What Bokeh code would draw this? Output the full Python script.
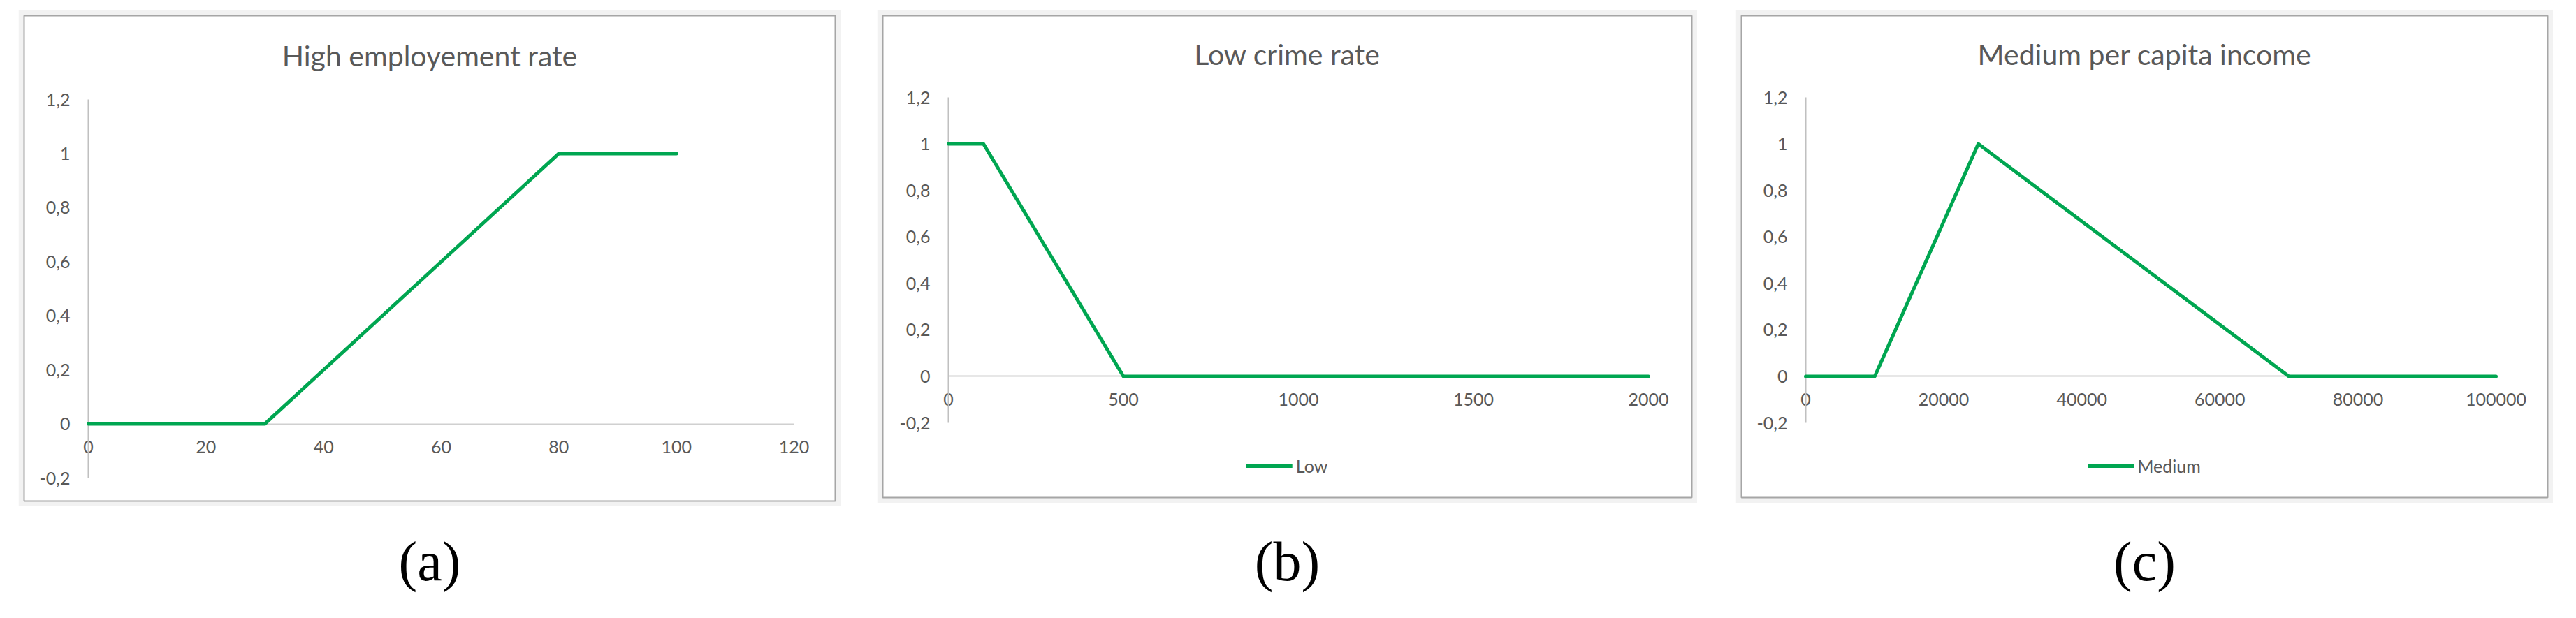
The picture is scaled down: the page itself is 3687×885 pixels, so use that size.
from bokeh.plotting import figure
from bokeh.models import FixedTicker, Label, Legend, LegendItem, Spacer, Range1d
from bokeh.layouts import row, column
from bokeh.embed import file_html
from bokeh.resources import INLINE
from bokeh.core.properties import value

# ---------------- data ----------------
emp_x = [0, 30, 80, 100]
emp_y = [0, 0, 1, 1]

crime_x = [0, 100, 500, 2000]
crime_y = [1, 1, 0, 0]

income_x = [0, 10000, 25000, 70000, 100000]
income_y = [0, 0, 1, 0, 0]

y_ticks = [-0.2, 0.0, 0.2, 0.4, 0.6, 0.8, 1.0, 1.2]
y_tick_labels = ["-0,2", "0", "0,2", "0,4", "0,6", "0,8", "1", "1,2"]

emp_ticks = [0, 20, 40, 60, 80, 100, 120]
emp_tick_labels = ["0", "20", "40", "60", "80", "100", "120"]
crime_ticks = [0, 500, 1000, 1500, 2000]
crime_tick_labels = ["0", "500", "1000", "1500", "2000"]
income_ticks = [0, 20000, 40000, 60000, 80000, 100000]
income_tick_labels = ["0", "20000", "40000", "60000", "80000", "100000"]

titles = ["High employement rate", "Low crime rate", "Medium per capita income"]
legend_labels = [None, "Low", "Medium"]
captions = ["(a)", "(b)", "(c)"]

GREEN = "#00A651"
TEXT = "#595959"
FONT = "Lato"


def make_panel(xs, ys, xt, xtl, xmax, title, legend_label,
               W, H, x0px, xmpx, ytpx, ybpx, title_px):
    fw, fh = W - 16, H - 16
    ppx = (xmpx - x0px) / xmax
    xs0 = -x0px / ppx
    xe = xs0 + fw / ppx
    ppy = (ybpx - ytpx) / 1.4
    ye = 1.2 + ytpx / ppy
    ys0 = ye - fh / ppy
    p = figure(width=W, height=H, x_range=Range1d(xs0, xe), y_range=Range1d(ys0, ye),
               output_backend="svg", toolbar_location=None, min_border=8,
               border_fill_color="#f2f2f2", background_fill_color="white",
               outline_line_color="#a6a6a6", outline_line_width=2)
    if p.title is not None:
        p.title.visible = False
    p.xgrid.visible = False
    p.ygrid.visible = False

    xa = p.xaxis[0]
    ya = p.yaxis[0]
    xa.fixed_location = 0
    ya.fixed_location = 0
    xa.bounds = (0, xmax)
    ya.bounds = (-0.2, 1.2)
    xa.ticker = FixedTicker(ticks=xt)
    ya.ticker = FixedTicker(ticks=y_ticks)
    xa.major_label_overrides = {t: l for t, l in zip(xt, xtl)}
    ya.major_label_overrides = {t: l for t, l in zip(y_ticks, y_tick_labels)}
    for ax in (xa, ya):
        ax.major_tick_in = 0
        ax.major_tick_out = 0
        ax.minor_tick_in = 0
        ax.minor_tick_out = 0
        ax.axis_line_width = 2
        ax.major_label_text_font = FONT
        ax.major_label_text_font_size = "25px"
        ax.major_label_text_color = TEXT
    xa.axis_line_color = "#d0d0d0"
    ya.axis_line_color = "#c0c0c0"
    xa.major_label_standoff = 24
    ya.major_label_standoff = 26

    r = p.line(xs, ys, line_color=GREEN, line_width=5, line_join="round",
               line_cap="round", level="overlay")

    p.add_layout(Label(x=(xs0 + xe) / 2, y=ye - title_px / ppy, text=title,
                       text_align="center", text_baseline="middle",
                       text_font=FONT, text_font_size="41px", text_color=TEXT))

    if legend_label:
        leg = Legend(items=[LegendItem(label=legend_label, renderers=[r])],
                     location="bottom_center", orientation="horizontal",
                     border_line_color=None, background_fill_alpha=0,
                     padding=0, margin=30, spacing=0,
                     glyph_width=66, glyph_height=20, label_height=20,
                     label_standoff=5, label_text_font=FONT,
                     label_text_font_size="25px", label_text_color=TEXT)
        p.add_layout(leg)
    return p


def make_caption(text, W, H, cy):
    c = figure(width=W, height=H, x_range=Range1d(0, 1), y_range=Range1d(0, 1),
               x_axis_type=None, y_axis_type=None, output_backend="svg",
               toolbar_location=None, min_border=0, outline_line_color=None,
               border_fill_color="white", background_fill_color="white")
    if c.title is not None:
        c.title.visible = False
    c.text(x=[0.5], y=[1 - cy / H], text=[text], text_align="center",
           text_baseline="middle", text_font=value("Liberation Serif"),
           text_font_size="80px", text_color="black")
    return c


pa = make_panel(emp_x, emp_y, emp_ticks, emp_tick_labels, 120, titles[0], legend_labels[0],
                1177, 711, 92, 1102, 120, 662, 57)
pb = make_panel(crime_x, crime_y, crime_ticks, crime_tick_labels, 2000, titles[1], legend_labels[1],
                1174, 706, 94, 1096, 117, 583, 55)
pc = make_panel(income_x, income_y, income_ticks, income_tick_labels, 100000, titles[2], legend_labels[2],
                1170, 706, 92, 1080, 117, 583, 55)

ca = make_caption(captions[0], 1177, 144, 78)
cb = make_caption(captions[1], 1174, 149, 83)
cc = make_caption(captions[2], 1170, 149, 83)

layout = column(
    Spacer(height=14),
    row(Spacer(width=26), column(pa, ca), Spacer(width=52),
        column(pb, cb), Spacer(width=55), column(pc, cc)),
)

open("out.html", "w").write(file_html(layout, INLINE))
